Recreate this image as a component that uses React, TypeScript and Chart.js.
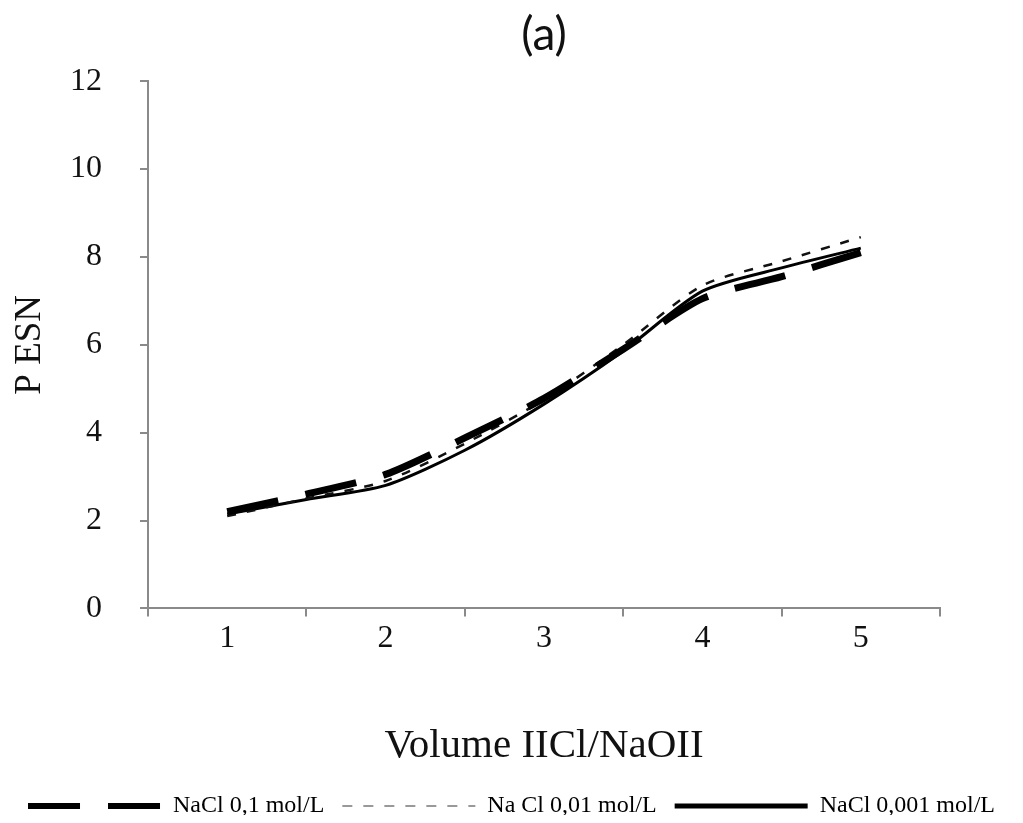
import React, { useEffect, useRef } from "react";
import { Chart, registerables } from "chart.js";

Chart.register(...registerables);

// Volume steps (HCl/NaOH additions) and measured PESN for each NaCl concentration
const categories = ["1", "2", "3", "4", "5"];
const volumes = [1, 1.5, 2, 2.5, 3, 3.5, 4, 4.5, 5];
const nacl01 = [2.2, 2.6, 3.05, 3.88, 4.78, 5.9, 7.05, 7.55, 8.1];
const nacl001 = [2.1, 2.5, 2.9, 3.75, 4.75, 6.0, 7.35, 7.9, 8.45];
const nacl0001 = [2.15, 2.48, 2.8, 3.6, 4.65, 5.86, 7.22, 7.75, 8.2];
const seriesLabels = ["NaCl 0,1 mol/L", "Na Cl 0,01 mol/L", "NaCl 0,001 mol/L"];
const yTicks = [0, 2, 4, 6, 8, 10, 12];

const serif = "'Liberation Serif', 'Times New Roman', serif";

const toPoints = (ys: number[]) => volumes.map((x, i) => ({ x, y: ys[i] }));

export default function App() {
  const canvasRef = useRef<HTMLCanvasElement | null>(null);

  useEffect(() => {
    if (!canvasRef.current) return;
    const axisColor = "#8a8a8a";

    const legendStyles = [
      { lineWidth: 6, lineDash: [52, 28], strokeStyle: "#000" },
      { lineWidth: 2, lineDash: [10, 11], strokeStyle: "#999" },
      { lineWidth: 5, lineDash: [], strokeStyle: "#000" },
    ];

    const chart = new Chart(canvasRef.current, {
      type: "line",
      data: {
        labels: categories,
        datasets: [
          {
            label: seriesLabels[0],
            data: toPoints(nacl01),
            xAxisID: "xData",
            yAxisID: "y",
            borderColor: "#000",
            borderWidth: 7,
            borderDash: [52, 28],
            pointRadius: 0,
            tension: 0.25,
            fill: false,
          },
          {
            label: seriesLabels[1],
            data: toPoints(nacl001),
            xAxisID: "xData",
            yAxisID: "y",
            borderColor: "#111",
            borderWidth: 2.5,
            borderDash: [9, 11],
            pointRadius: 0,
            tension: 0.25,
            fill: false,
          },
          {
            label: seriesLabels[2],
            data: toPoints(nacl0001),
            xAxisID: "xData",
            yAxisID: "y",
            borderColor: "#000",
            borderWidth: 3,
            pointRadius: 0,
            tension: 0.25,
            fill: false,
          },
        ],
      },
      options: {
        animation: false,
        responsive: false,
        layout: { padding: 0 },
        plugins: {
          tooltip: { enabled: false },
          title: {
            display: true,
            text: "(a)",
            fullSize: false,
            color: "#111",
            font: { family: "Lato, 'Open Sans', sans-serif", size: 46, weight: "normal" },
            padding: { top: 0, bottom: 18 },
          },
          legend: {
            position: "bottom",
            labels: {
              usePointStyle: true,
              pointStyleWidth: 133,
              boxHeight: 6,
              padding: 18,
              color: "#000",
              font: { family: serif, size: 24 },
              generateLabels: (c) =>
                c.data.datasets.map((ds, i) => ({
                  text: ds.label as string,
                  datasetIndex: i,
                  pointStyle: "line",
                  fillStyle: "rgba(0,0,0,0)",
                  strokeStyle: legendStyles[i].strokeStyle,
                  lineWidth: legendStyles[i].lineWidth,
                  lineDash: legendStyles[i].lineDash,
                  lineCap: "butt",
                  hidden: false,
                  fontColor: "#000",
                })),
            },
          },
        },
        scales: {
          x: {
            type: "category",
            offset: true,
            border: { color: axisColor, width: 2 },
            grid: {
              offset: true,
              drawOnChartArea: false,
              drawTicks: true,
              tickLength: 8,
              color: axisColor,
              lineWidth: 2,
            },
            ticks: {
              color: "#111",
              padding: 3,
              font: { family: serif, size: 32 },
            },
            title: {
              display: true,
              text: "Volume IICl/NaOII",
              color: "#111",
              font: { family: serif, size: 41 },
              padding: { top: 61, bottom: 5 },
            },
          },
          xData: {
            type: "linear",
            min: 0.5,
            max: 5.5,
            display: false,
          },
          // empty right-hand axis that only keeps space to the right of the plot
          yRight: {
            position: "right",
            display: true,
            min: 0,
            max: 12,
            border: { display: false },
            grid: { display: false },
            ticks: { display: false },
            afterFit: (s) => {
              s.width = 75;
            },
          },
          y: {
            position: "left",
            min: 0,
            max: 12,
            afterBuildTicks: (s) => {
              s.ticks = yTicks.map((v) => ({ value: v }));
            },
            afterFit: (s) => {
              s.width = 140;
            },
            border: { color: axisColor, width: 2 },
            grid: {
              drawOnChartArea: false,
              drawTicks: true,
              tickLength: 8,
              color: axisColor,
              lineWidth: 2,
            },
            ticks: {
              color: "#111",
              padding: 38,
              font: { family: serif, size: 32 },
            },
            title: {
              display: true,
              text: "P ESN",
              color: "#111",
              font: { family: serif, size: 37 },
              padding: { top: 0, bottom: 0 },
            },
          },
        },
      },
    });

    return () => chart.destroy();
  }, []);

  return (
    <div style={{ width: 1007, height: 807, overflow: "hidden" }}>
      <canvas ref={canvasRef} width={1007} height={820} style={{ display: "block" }} />
    </div>
  );
}
